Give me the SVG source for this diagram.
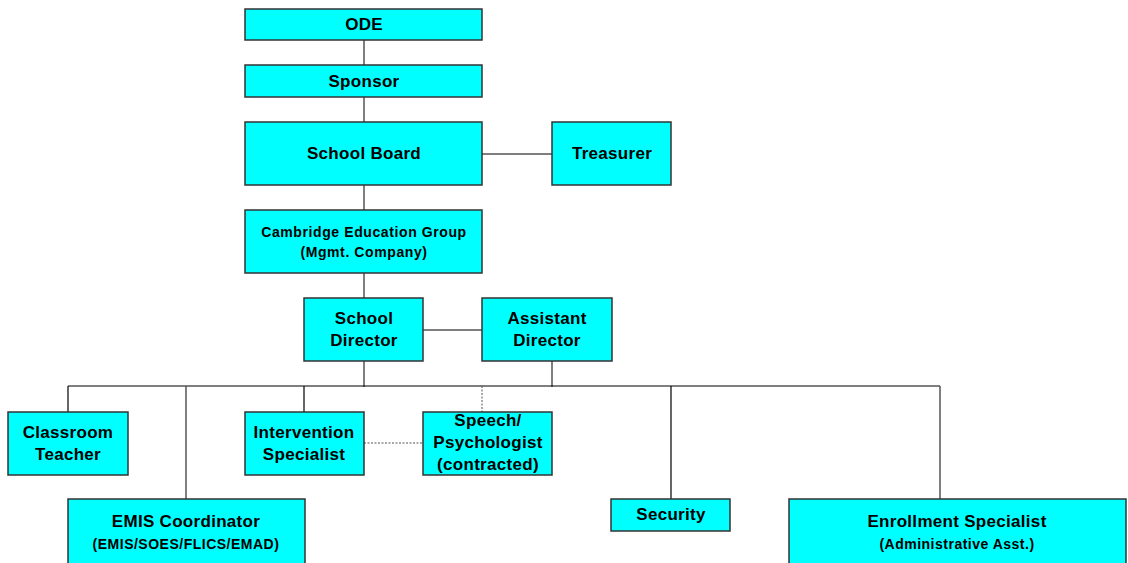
<svg xmlns="http://www.w3.org/2000/svg" width="1128" height="563" viewBox="0 0 1128 563">
<style>
.box{fill:#00FFFF;stroke:#333;stroke-width:1.5}
.t{font-family:"Liberation Sans",Arial,sans-serif;font-weight:bold;fill:#000;text-anchor:middle}
.l{font-size:17px;letter-spacing:0.3px}
.m{font-size:14px;letter-spacing:0.6px}
.s{font-size:14px;letter-spacing:0.5px}
.c{stroke:#555;stroke-width:1.5;fill:none}
.b{stroke:#000;stroke-width:1.2;fill:none}
.d{stroke:#555;stroke-width:1;stroke-dasharray:2,1.5;fill:none}
</style>
<rect width="1128" height="563" fill="#fff"/>
<g id="connectors">
<line class="c" x1="364" y1="40" x2="364" y2="65"/>
<line class="c" x1="364" y1="97" x2="364" y2="122"/>
<line class="c" x1="482" y1="154" x2="552" y2="154"/>
<line class="c" x1="364" y1="185" x2="364" y2="210"/>
<line class="c" x1="364" y1="273" x2="364" y2="298"/>
<line class="c" x1="423" y1="330" x2="482" y2="330"/>
<line class="c" x1="364" y1="361" x2="364" y2="387"/>
<line class="c" x1="552" y1="361" x2="552" y2="387"/>
<line class="b" x1="68" y1="386" x2="940" y2="386"/>
<line class="b" x1="68" y1="386" x2="68" y2="412"/>
<line class="c" x1="186" y1="386" x2="186" y2="499"/>
<line class="b" x1="304" y1="386" x2="304" y2="412"/>
<line class="d" x1="482" y1="386" x2="482" y2="412"/>
<line class="d" x1="364" y1="443" x2="423" y2="443"/>
<line class="b" x1="671" y1="386" x2="671" y2="499"/>
<line class="c" x1="940" y1="386" x2="940" y2="499"/>
</g>
<g id="ode"><rect class="box" x="245" y="9" width="237" height="31"/><text class="t l" x="364" y="30">ODE</text></g>
<g id="sponsor"><rect class="box" x="245" y="65" width="237" height="32"/><text class="t l" x="364" y="87">Sponsor</text></g>
<g id="school-board"><rect class="box" x="245" y="122" width="237" height="63"/><text class="t l" x="364" y="159">School Board</text></g>
<g id="treasurer"><rect class="box" x="552" y="122" width="119" height="63"/><text class="t l" x="612" y="159">Treasurer</text></g>
<g id="ceg"><rect class="box" x="245" y="210" width="237" height="63"/><text class="t m" x="364" y="237">Cambridge Education Group</text><text class="t m" x="364" y="257">(Mgmt. Company)</text></g>
<g id="school-director"><rect class="box" x="304" y="298" width="119" height="63"/><text class="t l" x="364" y="324">School</text><text class="t l" x="364" y="346">Director</text></g>
<g id="assistant-director"><rect class="box" x="482" y="298" width="130" height="63"/><text class="t l" x="547" y="324">Assistant</text><text class="t l" x="547" y="346">Director</text></g>
<g id="classroom-teacher"><rect class="box" x="8" y="412" width="120" height="63"/><text class="t l" x="68" y="438">Classroom</text><text class="t l" x="68" y="460">Teacher</text></g>
<g id="intervention-specialist"><rect class="box" x="245" y="412" width="119" height="63"/><text class="t l" x="304" y="438">Intervention</text><text class="t l" x="304" y="460">Specialist</text></g>
<g id="speech"><rect class="box" x="423" y="412" width="129" height="63"/><text class="t l" x="488" y="426">Speech/</text><text class="t l" x="488" y="448">Psychologist</text><text class="t l" x="488" y="470">(contracted)</text></g>
<g id="emis"><rect class="box" x="68" y="499" width="237" height="66"/><text class="t l" x="186" y="527">EMIS Coordinator</text><text class="t s" x="186" y="549">(EMIS/SOES/FLICS/EMAD)</text></g>
<g id="security"><rect class="box" x="611" y="499" width="119" height="32"/><text class="t l" x="671" y="520">Security</text></g>
<g id="enrollment"><rect class="box" x="789" y="499" width="337" height="66"/><text class="t l" x="957" y="527">Enrollment Specialist</text><text class="t s" x="957" y="549">(Administrative Asst.)</text></g>
</svg>
